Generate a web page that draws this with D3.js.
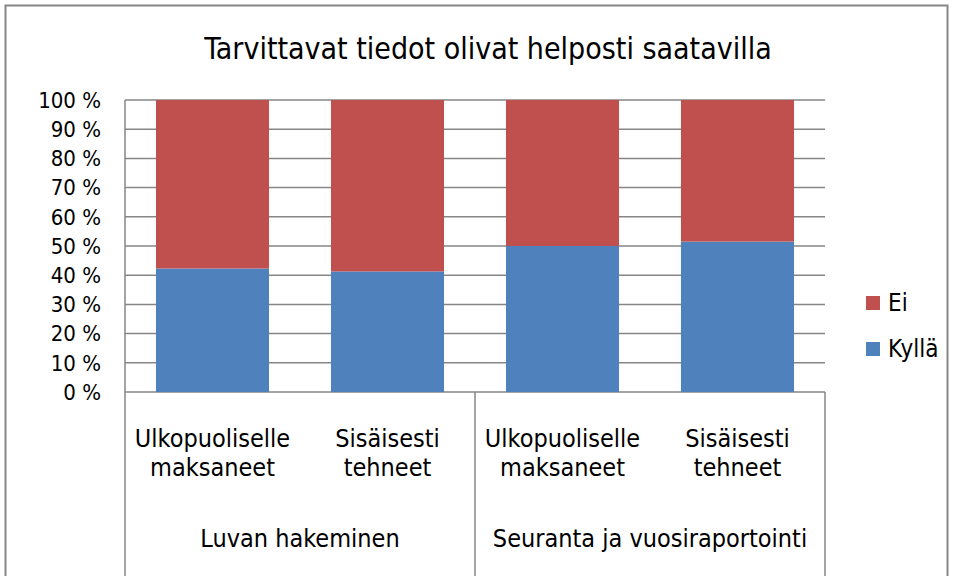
<!DOCTYPE html>
<html>
<head>
<meta charset="utf-8">
<script src="https://cdn.jsdelivr.net/npm/d3@7"></script>
<style>
  body { margin: 0; background: #fff; }
  text { font-family: "DejaVu Sans Condensed", "Liberation Sans Narrow", sans-serif; fill: #000; }
</style>
</head>
<body>
<div id="d3-container"></div>
<script>
// data
const groups = ["Luvan hakeminen", "Seuranta ja vuosiraportointi"];
const categories = [
    ["Ulkopuoliselle", "maksaneet"],
    ["Sisäisesti", "tehneet"],
    ["Ulkopuoliselle", "maksaneet"],
    ["Sisäisesti", "tehneet"]
];
const kylla = [42.3, 41.3, 50.0, 51.5];
const ei = [57.7, 58.7, 50.0, 48.5];
const seriesNames = ["Kyllä", "Ei"];
const colors = ["#4F81BD", "#C0504D"];
const yTicks = [0, 10, 20, 30, 40, 50, 60, 70, 80, 90, 100];

const W = 954, H = 576;
const margin = { top: 100, right: 129, bottom: 184, left: 125 };
const width = W - margin.left - margin.right;
const height = H - margin.top - margin.bottom;

const svg = d3.select("#d3-container")
    .append("svg")
    .attr("width", W)
    .attr("height", H);

// outer frame
svg.append("rect")
    .attr("x", 5.5).attr("y", 5.5)
    .attr("width", W - 12).attr("height", H + 10)
    .attr("fill", "none")
    .attr("stroke", "#868686")
    .attr("stroke-width", 2);

svg.append("text")
    .attr("x", 488)
    .attr("y", 59)
    .attr("text-anchor", "middle")
    .attr("font-size", 30)
    .text("Tarvittavat tiedot olivat helposti saatavilla");

const g = svg.append("g")
    .attr("transform", "translate(" + margin.left + "," + margin.top + ")");

const idx = d3.range(categories.length);

const xScale = d3.scaleBand()
    .domain(idx)
    .range([0, width])
    .paddingInner(0.354)
    .paddingOuter(0.177);

const yScale = d3.scaleLinear()
    .domain([0, 100])
    .range([height, 0]);

// gridlines
g.append("g")
    .selectAll("line")
    .data(yTicks)
    .enter()
    .append("line")
    .attr("x1", 0)
    .attr("x2", width)
    .attr("y1", d => yScale(d))
    .attr("y2", d => yScale(d))
    .attr("stroke", "#868686")
    .attr("stroke-width", 1.5);

// y labels
g.append("g")
    .selectAll("text")
    .data(yTicks)
    .enter()
    .append("text")
    .attr("x", -24)
    .attr("y", d => yScale(d))
    .attr("dy", "0.35em")
    .attr("text-anchor", "end")
    .attr("font-size", 22)
    .text(d => d + " %");

// stacked bars
const rows = idx.map(i => ({ i: i, "Kyllä": kylla[i], "Ei": ei[i] }));
const stack = d3.stack().keys(seriesNames)(rows);

g.selectAll(".series")
    .data(stack)
    .enter()
    .append("g")
    .attr("fill", (d, k) => colors[k])
    .selectAll("rect")
    .data(d => d)
    .enter()
    .append("rect")
    .attr("x", d => xScale(d.data.i))
    .attr("y", d => yScale(d[1]))
    .attr("width", xScale.bandwidth())
    .attr("height", d => yScale(d[0]) - yScale(d[1]));

// axis lines and group separators
const sepX = [0, xScale.step() * 2, width];
g.append("line")
    .attr("x1", 0).attr("x2", 0)
    .attr("y1", 0).attr("y2", height)
    .attr("stroke", "#868686").attr("stroke-width", 1.5);
g.append("g")
    .selectAll("line")
    .data(sepX)
    .enter()
    .append("line")
    .attr("x1", d => d).attr("x2", d => d)
    .attr("y1", height).attr("y2", H - margin.top)
    .attr("stroke", "#868686").attr("stroke-width", 1.5);

// category labels
const catLabels = g.append("g")
    .selectAll("text")
    .data(categories)
    .enter()
    .append("text")
    .attr("text-anchor", "middle")
    .attr("font-size", 25)
    .attr("transform", (d, i) => "translate(" + (xScale(i) + xScale.bandwidth() / 2) + "," + (height + 55) + ")");
catLabels.selectAll("tspan")
    .data(d => d)
    .enter()
    .append("tspan")
    .attr("x", 0)
    .attr("y", (d, j) => j * 29)
    .text(d => d);

// group labels
g.append("g")
    .selectAll("text")
    .data(groups)
    .enter()
    .append("text")
    .attr("x", (d, gi) => (sepX[gi] + sepX[gi + 1]) / 2)
    .attr("y", height + 155)
    .attr("text-anchor", "middle")
    .attr("font-size", 25)
    .text(d => d);

// legend
const legendItems = [1, 0];
const legend = svg.append("g")
    .selectAll("g")
    .data(legendItems)
    .enter()
    .append("g")
    .attr("transform", (d, j) => "translate(866," + (296 + j * 46) + ")");
legend.append("rect")
    .attr("width", 14).attr("height", 14)
    .attr("fill", d => colors[d]);
legend.append("text")
    .attr("x", 22)
    .attr("y", 7)
    .attr("dy", "0.35em")
    .attr("font-size", 24)
    .text(d => seriesNames[d]);
</script>
</body>
</html>
